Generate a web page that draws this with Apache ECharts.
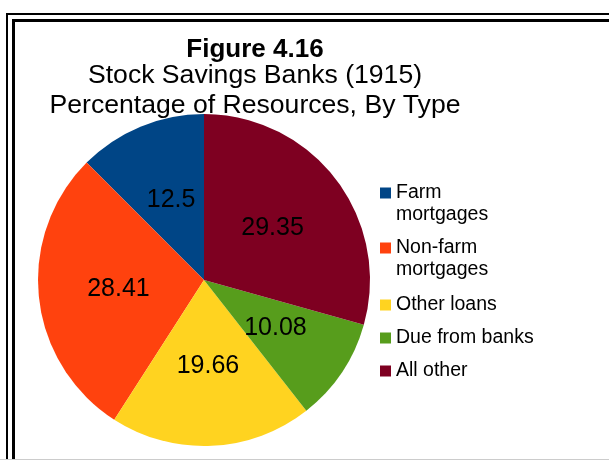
<!DOCTYPE html>
<html>
<head>
<meta charset="utf-8">
<script src="https://cdn.jsdelivr.net/npm/echarts@6/dist/echarts.min.js"></script>
<style>
  html, body { margin: 0; padding: 0; background: #ffffff; }
  #chart { width: 609px; height: 460px; }
</style>
</head>
<body>
<div id="chart"></div>
<script>
// Stock savings banks, 1915: share of resources by type (percent)
const categories = ['Farm mortgages', 'Non-farm mortgages', 'Other loans', 'Due from banks', 'All other'];
const shares = [12.5, 28.41, 19.66, 10.08, 29.35];
const sliceColors = ['#004586', '#ff420e', '#ffd320', '#579d1c', '#7e0021'];
const titleLines = ['Figure 4.16', 'Stock Savings Banks (1915)', 'Percentage of Resources, By Type'];

const FONT = '"Liberation Sans", Arial, sans-serif';

// Two-word "mortgages" entries wrap onto a second line in the legend
const isWrapped = function (name) { return name.endsWith(' mortgages'); };
function legendLabel(name) {
  return isWrapped(name)
    ? '{t|' + name.replace(' mortgages', '') + '}\n{t|mortgages}'
    : '{t|' + name + '}';
}

const legendText = {
  fontFamily: FONT,
  fontSize: 19.5,
  lineHeight: 22,
  color: '#000',
  rich: {
    t: { fontFamily: FONT, fontSize: 19.5, lineHeight: 22, color: '#000' }
  }
};

function legendBlock(names, top, gap) {
  return {
    orient: 'vertical',
    left: 380,
    top: top,
    padding: 0,
    itemWidth: 11,
    itemHeight: 11,
    itemGap: gap,
    icon: 'rect',
    selectedMode: false,
    data: names,
    formatter: legendLabel,
    textStyle: legendText
  };
}

// Wrapped entries: top padding keeps the first line level with the colour key
const wrappedNames = categories.filter(isWrapped).map(function (name) {
  return { name: name, textStyle: { padding: [22, 0, 0, 0] } };
});
const singleNames = categories.filter(function (n) { return !isWrapped(n); });

const chart = echarts.init(document.getElementById('chart'), null, { renderer: 'canvas' });

chart.setOption({
  animation: false,
  backgroundColor: '#ffffff',
  graphic: [
    // double frame along the top and left edges
    { type: 'rect', shape: { x: 6, y: 13, width: 700, height: 2 }, style: { fill: '#000' }, silent: true },
    { type: 'rect', shape: { x: 6, y: 13, width: 2, height: 460 }, style: { fill: '#000' }, silent: true },
    { type: 'rect', shape: { x: 12, y: 19, width: 700, height: 3 }, style: { fill: '#000' }, silent: true },
    { type: 'rect', shape: { x: 12, y: 19, width: 3, height: 460 }, style: { fill: '#000' }, silent: true },
    { type: 'rect', shape: { x: 0, y: 459, width: 609, height: 1 }, style: { fill: '#cccccc' }, silent: true },
    // heading
    { type: 'text', x: 255, y: 37, style: { text: titleLines[0], font: 'bold 26px ' + FONT, fill: '#000', textAlign: 'center', textVerticalAlign: 'top' }, silent: true },
    { type: 'text', x: 255, y: 62, style: { text: titleLines[1], font: '26.6px ' + FONT, fill: '#000', textAlign: 'center', textVerticalAlign: 'top' }, silent: true },
    { type: 'text', x: 255, y: 92, style: { text: titleLines[2], font: '26.6px ' + FONT, fill: '#000', textAlign: 'center', textVerticalAlign: 'top' }, silent: true }
  ],
  legend: [
    legendBlock(wrappedNames, 160, -11),
    legendBlock(singleNames, 294, 11)
  ],
  series: [{
    type: 'pie',
    center: [204, 280],
    radius: 166,
    startAngle: 90,
    clockwise: false,
    silent: true,
    avoidLabelOverlap: false,
    label: {
      show: true,
      position: 'inside',
      formatter: '{c}',
      color: '#000',
      fontFamily: FONT,
      fontSize: 25
    },
    labelLine: { show: false },
    itemStyle: { borderWidth: 0 },
    emphasis: { disabled: true },
    data: categories.map(function (name, i) {
      return { name: name, value: shares[i], itemStyle: { color: sliceColors[i] } };
    })
  }]
});
</script>
</body>
</html>
